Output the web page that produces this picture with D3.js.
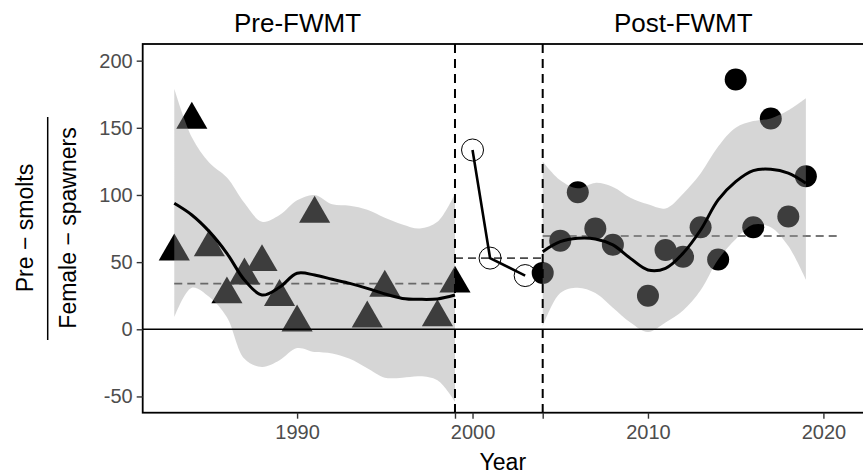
<!DOCTYPE html>
<html>
<head>
<meta charset="utf-8">
<script src="https://cdn.jsdelivr.net/npm/d3@7"></script>
<style>
  body { margin: 0; background: #fff; }
  svg { font-family: "Liberation Sans", Arial, sans-serif; display: block; }
</style>
</head>
<body>
<div id="chart"></div>
<script>
// observed pre-smolts / female-spawner ratios
var preYears = [1983, 1984, 1985, 1986, 1987, 1988, 1989, 1990, 1991, 1994, 1995, 1998, 1999];
var preRatio = [58, 156, 61, 26, 40, 50, 24, 5, 86, 8, 31, 9, 34];
var midYears = [2000, 2001, 2003];
var midRatio = [133.5, 53, 40];
var postYears = [2004, 2005, 2006, 2007, 2008, 2010, 2011, 2012, 2013, 2014, 2015, 2016, 2017, 2018, 2019];
var postRatio = [42, 66, 102, 75, 63, 25, 59, 54, 76, 52, 186, 76, 157, 84, 114];

// smoothed fit + band
var preFitYears = [1983, 1984, 1985, 1986, 1987, 1988, 1989, 1990, 1991, 1992, 1993, 1994, 1995, 1996, 1997, 1998, 1999];
var preFit   = [93.8, 85.1, 72.7, 56.6, 36.7, 25.5, 31.3, 41.7, 40.4, 37.2, 34.2, 30.5, 26.3, 23, 22.3, 22.6, 25.5];
var preUpper = [179, 143, 124, 113, 94, 80, 85, 96, 100, 93, 92, 89, 83, 78, 75, 80, 101];
var preLower = [9, 31, 24, 9, -22, -28, -23, -14, -17, -18, -22, -29, -36, -36, -35, -38, -54];

var postFitYears = [2004, 2005, 2006, 2007, 2008, 2009, 2010, 2011, 2012, 2013, 2014, 2015, 2016, 2017, 2018, 2019];
var postFit   = [57.8, 65.2, 67.7, 67.2, 62.8, 52.8, 44.2, 45.4, 56.6, 73.9, 96.3, 109.9, 118.1, 119.1, 116.2, 108.7];
var postUpper = [125, 111, 105, 109, 106, 98, 93, 90, 101, 116, 136, 150, 155, 157, 163, 172];
var postLower = [2, 27, 31, 27, 16, 5, -2, 5, 14, 29, 52, 67, 78, 76, 62, 37];

// median reference lines per period
var medianStart = [1983, 1999, 2004];
var medianEnd   = [1999, 2004, 2021];
var medianValue = [34, 53, 69.5];

var breakYears = [1999, 2004];
var xTicks = [1990, 2000, 2010, 2020];
var yTicks = [-50, 0, 50, 100, 150, 200];
var panelLabels = ["Pre-FWMT", "Post-FWMT"];

var width = 863, height = 474;
var margin = {left: 142.7, right: 1, top: 44, bottom: 61.3};

var svg = d3.select("#chart").append("svg")
  .attr("width", width)
  .attr("height", height);

var x = d3.scaleLinear().domain([1981.2, 2022.2]).range([margin.left, width - margin.right]);
var y = d3.scaleLinear().domain([-62.1, 212.4]).range([height - margin.bottom, margin.top]);

var zip = function(xs, ys) { return xs.map(function(d, i) { return [d, ys[i]]; }); };
var band = function(xs, lo, hi) { return xs.map(function(d, i) { return {yr: d, lo: lo[i], hi: hi[i]}; }); };

var plot = svg.append("g");

// median dashed lines
plot.selectAll(".median")
  .data(medianValue)
  .enter().append("line")
  .attr("x1", function(d, i) { return x(medianStart[i]); })
  .attr("x2", function(d, i) { return x(medianEnd[i]); })
  .attr("y1", function(d) { return y(d); })
  .attr("y2", function(d) { return y(d); })
  .attr("stroke", "#4a4a4a")
  .attr("stroke-width", 1.6)
  .attr("stroke-dasharray", "8,5");

// triangles (pre)
var tri = d3.symbol().type(d3.symbolTriangle).size(420);
plot.selectAll(".tri")
  .data(zip(preYears, preRatio))
  .enter().append("path")
  .attr("d", tri)
  .attr("transform", function(d) { return "translate(" + x(d[0]) + "," + y(d[1]) + ")"; })
  .attr("fill", "#000");

// filled circles (post)
plot.selectAll(".dot")
  .data(zip(postYears, postRatio))
  .enter().append("circle")
  .attr("cx", function(d) { return x(d[0]); })
  .attr("cy", function(d) { return y(d[1]); })
  .attr("r", 11)
  .attr("fill", "#000");

// confidence bands on top of points (translucent)
var area = d3.area()
  .x(function(d) { return x(d.yr); })
  .y0(function(d) { return y(d.lo); })
  .y1(function(d) { return y(d.hi); })
  .curve(d3.curveCatmullRom);

[band(preFitYears, preLower, preUpper), band(postFitYears, postLower, postUpper)].forEach(function(b) {
  plot.append("path")
    .datum(b)
    .attr("d", area)
    .attr("fill", "#999")
    .attr("fill-opacity", 0.4);
});

// smooth fit lines
var line = d3.line()
  .x(function(d) { return x(d[0]); })
  .y(function(d) { return y(d[1]); })
  .curve(d3.curveCatmullRom);

[zip(preFitYears, preFit), zip(postFitYears, postFit)].forEach(function(f) {
  plot.append("path")
    .datum(f)
    .attr("d", line)
    .attr("fill", "none")
    .attr("stroke", "#000")
    .attr("stroke-width", 3);
});

// transition period: open circles joined by a line
plot.append("path")
  .datum(zip(midYears, midRatio))
  .attr("d", d3.line().x(function(d) { return x(d[0]); }).y(function(d) { return y(d[1]); }))
  .attr("fill", "none")
  .attr("stroke", "#000")
  .attr("stroke-width", 2.6);

plot.selectAll(".open")
  .data(zip(midYears, midRatio))
  .enter().append("circle")
  .attr("cx", function(d) { return x(d[0]); })
  .attr("cy", function(d) { return y(d[1]); })
  .attr("r", 11)
  .attr("fill", "none")
  .attr("stroke", "#000")
  .attr("stroke-width", 1);

// zero line
plot.append("line")
  .attr("x1", margin.left).attr("x2", width)
  .attr("y1", y(0)).attr("y2", y(0))
  .attr("stroke", "#000").attr("stroke-width", 1.6);

// period breaks
plot.selectAll(".brk")
  .data(breakYears)
  .enter().append("line")
  .attr("x1", function(d) { return x(d); })
  .attr("x2", function(d) { return x(d); })
  .attr("y1", margin.top)
  .attr("y2", height - margin.bottom)
  .attr("stroke", "#000")
  .attr("stroke-width", 2)
  .attr("stroke-dasharray", "9,6");

// panel border
svg.append("rect")
  .attr("x", margin.left).attr("y", margin.top)
  .attr("width", width - margin.left - margin.right + 5)
  .attr("height", height - margin.top - margin.bottom)
  .attr("fill", "none").attr("stroke", "#000").attr("stroke-width", 1.8);

// axes
var xAxis = svg.append("g")
  .attr("transform", "translate(0," + (height - margin.bottom) + ")")
  .call(d3.axisBottom(x).tickValues(xTicks.concat(breakYears)).tickSize(6).tickPadding(6)
    .tickFormat(function(d) { return xTicks.indexOf(d) >= 0 ? d : ""; }));
var yAxis = svg.append("g")
  .attr("transform", "translate(" + margin.left + ",0)")
  .call(d3.axisLeft(y).tickValues(yTicks).tickSize(6).tickPadding(4)
    .tickFormat(function(d) { return d < 0 ? "-" + Math.abs(d) : d; }));

[xAxis, yAxis].forEach(function(a) {
  a.select(".domain").remove();
  a.selectAll(".tick line").attr("stroke", "#333").attr("stroke-width", 1.4);
  a.selectAll(".tick text").attr("fill", "#4d4d4d").style("font-size", "20px")
    .style("font-family", "'Liberation Sans', Arial, sans-serif");
});
xAxis.selectAll(".tick text").attr("dy", "0.71em");

// axis titles
svg.append("text")
  .attr("x", (margin.left + width) / 2).attr("y", 470)
  .attr("text-anchor", "middle")
  .style("font-size", "23px")
  .text("Year");

var yl = svg.append("g").attr("transform", "translate(0,228) rotate(-90)");
yl.append("text").attr("x", 0).attr("y", 33).attr("text-anchor", "middle")
  .style("font-size", "23px").text("Pre \u2212 smolts");
yl.append("line").attr("x1", -112).attr("x2", 111).attr("y1", 47.7).attr("y2", 47.7)
  .attr("stroke", "#000").attr("stroke-width", 1.5);
yl.append("text").attr("x", 0).attr("y", 76).attr("text-anchor", "middle")
  .style("font-size", "23px").text("Female \u2212 spawners");

// panel labels
svg.selectAll(".strip")
  .data(panelLabels)
  .enter().append("text")
  .attr("x", function(d, i) { return i === 0 ? 297.5 : 683.3; })
  .attr("y", 31.7)
  .attr("text-anchor", "middle")
  .style("font-size", "26px")
  .text(function(d) { return d; });
</script>
</body>
</html>
